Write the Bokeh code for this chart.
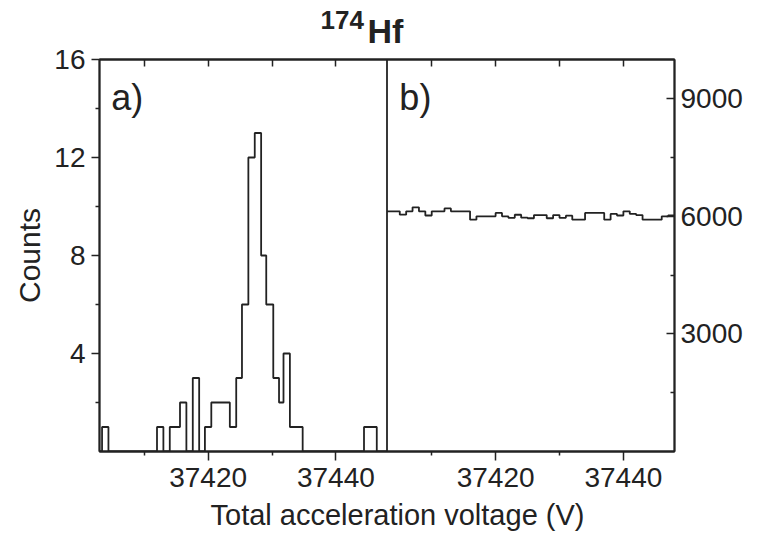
from bokeh.plotting import figure
from bokeh.models import Range1d, LinearAxis, FixedTicker, Span, Label, Title
from bokeh.embed import file_html
from bokeh.resources import INLINE

# ---------------- data ----------------
# panel a: histogram of counts (bin edges in V, counts per bin)
a_edges = [37403.0, 37403.4, 37404.4, 37412.0, 37413.0, 37414.0, 37415.6, 37416.6,
           37417.6, 37418.6, 37419.5, 37420.5, 37423.4, 37424.4, 37425.3, 37426.3,
           37427.3, 37428.3, 37429.1, 37430.2, 37431.1, 37431.8, 37432.8, 37434.8,
           37444.4, 37446.4, 37448.0]
a_counts = [0, 1, 0, 1, 0, 1, 2, 0, 3, 0, 1, 2, 1, 3, 6, 12, 13, 8, 6, 3, 2, 4, 1, 0, 1, 0]

# panel b: reference counts, 1 V bins starting at 37403 V
b_first_edge = 37403
b_counts = [6127, 6127, 6042, 6127, 6230, 6127, 6020, 6127, 6127, 6200,
            6127, 6127, 6127, 5915, 6000, 6000, 6000, 6085, 6000, 5960,
            6040, 5965, 5950, 6030, 6030, 5950, 6030, 5960, 6015, 5915,
            5915, 6085, 6085, 6085, 5915, 6060, 6020, 6127, 6060, 6030,
            5915, 5915, 5915, 6000, 6020]
b_edges = [b_first_edge + i for i in range(len(b_counts) + 1)]

x_min, x_max = 37403, 37448
a_y_max = 16
b_y_max = 10000
x_major = [37420, 37440]
x_minor = [37410, 37430]
a_y_major = [4, 8, 12, 16]
a_y_minor = [2, 6, 10, 14]
b_y_major = [3000, 6000, 9000]
b_y_minor = [1500, 4500, 7500]

title_mass = "174"
title_elem = "Hf"
x_label = "Total acceleration voltage (V)"
y_label = "Counts"

# ---------------- layout ----------------
W, H = 769, 538
BL, BR, BT, BB = 99, 95, 59, 87
INK = "#222222"
FONT = "Liberation Sans"
span = x_max - x_min

p = figure(width=W, height=H, title=None,
           x_range=Range1d(x_min, x_min + 2 * span),
           y_range=Range1d(0, a_y_max),
           x_axis_type=None, y_axis_type=None,
           output_backend="svg", toolbar_location=None,
           min_border_left=BL, min_border_right=BR,
           min_border_top=BT, min_border_bottom=BB)
p.extra_x_ranges = {"b": Range1d(x_min - span, x_max)}
p.extra_y_ranges = {"b": Range1d(0, b_y_max)}
p.outline_line_color = INK
p.outline_line_width = 1.8
p.background_fill_color = "white"
p.border_fill_color = "white"

# histograms
p.step(a_edges, a_counts + [a_counts[-1]], mode="after", line_color=INK, line_width=1.8)
p.step(b_edges, b_counts + [b_counts[-1]], mode="after", line_color=INK, line_width=1.8,
       x_range_name="b", y_range_name="b")

# divider between panels
p.add_layout(Span(location=x_max, dimension="height", line_color=INK, line_width=1.8))

# x axes (one shared axis covering both panels)
ticks_all = x_major + [v + span for v in x_major]
minor_all = x_minor + [v + span for v in x_minor]
overrides = {}
for v in x_major:
    overrides[v] = str(v)
    overrides[v + span] = str(v)

bottom = LinearAxis(ticker=FixedTicker(ticks=ticks_all, minor_ticks=minor_all),
                    major_label_overrides=overrides)
bottom.major_tick_in = 0
bottom.major_tick_out = 9
bottom.minor_tick_in = 0
bottom.minor_tick_out = 4
bottom.major_label_standoff = 7
p.add_layout(bottom, "below")

top = LinearAxis(ticker=FixedTicker(ticks=ticks_all, minor_ticks=minor_all))
top.major_tick_in = 7
top.major_tick_out = 0
top.minor_tick_in = 7
top.minor_tick_out = 0
top.major_label_standoff = 0
top.major_label_text_font_size = "0px"
p.add_layout(top, "above")

left = LinearAxis(ticker=FixedTicker(ticks=a_y_major, minor_ticks=a_y_minor),
                  axis_label=y_label)
left.major_tick_in = 0
left.major_tick_out = 8
left.minor_tick_in = 0
left.minor_tick_out = 4
left.major_label_standoff = 6
left.axis_label_standoff = 5
p.add_layout(left, "left")

right = LinearAxis(y_range_name="b",
                   ticker=FixedTicker(ticks=b_y_major, minor_ticks=b_y_minor))
right.major_tick_in = 8
right.major_tick_out = 0
right.minor_tick_in = 4
right.minor_tick_out = 0
right.major_label_standoff = 6
p.add_layout(right, "right")

for ax in (bottom, top, left, right):
    ax.axis_line_color = INK
    ax.axis_line_width = 1.8
    ax.major_tick_line_color = INK
    ax.major_tick_line_width = 1.5
    ax.minor_tick_line_color = INK
    ax.minor_tick_line_width = 1.5
    ax.major_label_text_font = FONT
    ax.axis_label_text_font = FONT
    ax.axis_label_text_font_style = "normal"
    ax.axis_label_text_color = INK
for ax in (bottom, left, right):
    ax.major_label_text_color = INK
    ax.major_label_text_font_size = "28px"
top.major_label_text_color = None
left.axis_label_text_font_size = "30px"

# x-axis title below, and the nuclide title above (mass number raised)
p.add_layout(Title(text=x_label, align="left", offset=111, standoff=15,
                   text_font=FONT, text_font_size="29px", text_font_style="normal",
                   text_color=INK), "below")
p.add_layout(Title(text=title_elem, align="left", offset=268, standoff=19,
                   text_font=FONT, text_font_size="34px", text_font_style="bold",
                   text_color=INK), "above")
p.add_layout(Title(text=title_mass, align="left", offset=221, standoff=-57,
                   text_font=FONT, text_font_size="26px", text_font_style="bold",
                   text_color=INK), "above")

# panel tags inside the frame
x_a = x_min + 0.041 * span
x_b = x_max + 0.043 * span
y_tag = 0.903 * a_y_max
for xx, tag in ((x_a, "a)"), (x_b, "b)")):
    p.add_layout(Label(x=xx, y=y_tag, text=tag, text_font=FONT,
                       text_font_size="36px", text_color=INK,
                       text_align="left", text_baseline="alphabetic"))

open("out.html", "w").write(file_html(p, INLINE))
